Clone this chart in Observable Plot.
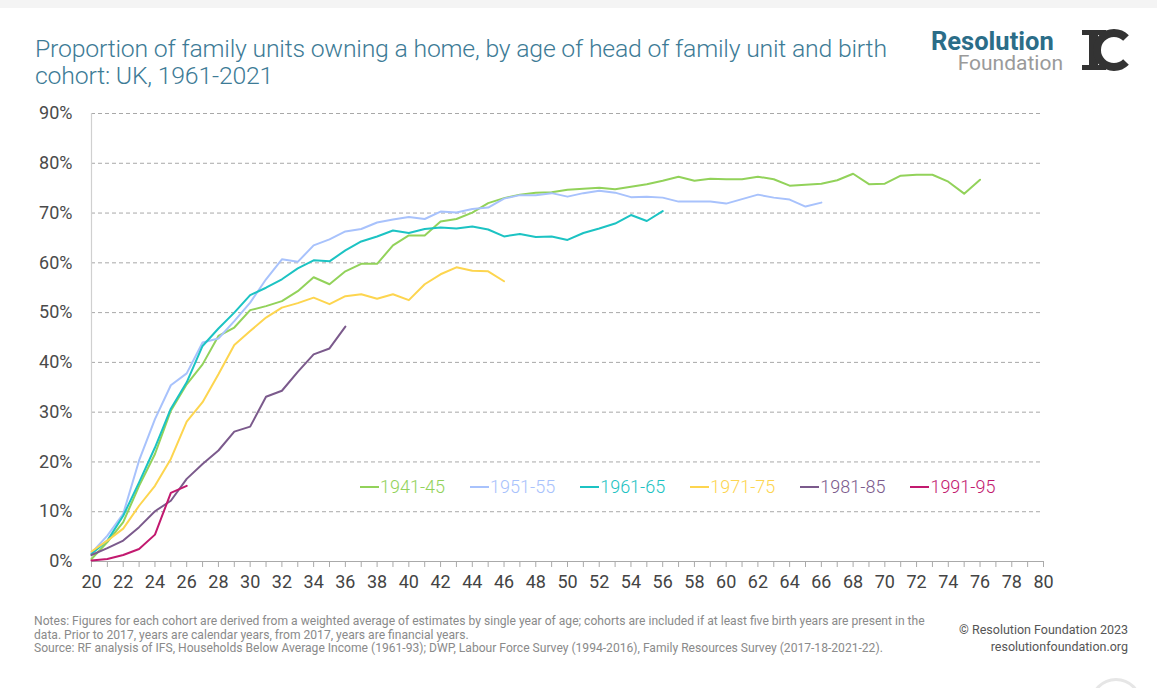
<!DOCTYPE html>
<html>
<head>
<meta charset="utf-8">
<script src="https://cdn.jsdelivr.net/npm/d3@7"></script>
<script src="https://cdn.jsdelivr.net/npm/@observablehq/plot@0.6"></script>
<style>
  html, body { margin: 0; padding: 0; background: #fff; }
  body { width: 1157px; height: 688px; position: relative; overflow: hidden; font-family: Roboto, "Noto Sans", sans-serif; }
  #band { position: absolute; left: 0; top: 0; width: 1157px; height: 8px; background: #f4f4f4; }
  #title { position: absolute; left: 35px; top: 35px; font-size: 24.8px; font-weight: 300; color: #3d7b96; line-height: 27px; white-space: nowrap; letter-spacing: -0.2px; }
  #logo1 { position: absolute; left: 931px; top: 29px; font-size: 25.5px; line-height: 24px; font-weight: 700; color: #2b6d88; white-space: nowrap; }
  #logo2 { position: absolute; right: 94px; top: 54px; font-size: 21px; line-height: 18px; font-weight: 400; color: #9a9a9a; white-space: nowrap; }
  #ic { position: absolute; left: 1080px; top: 28px; }
  #chart { position: absolute; left: 0; top: 100px; }
  #legend { position: absolute; left: 360px; top: 476px; display: flex; gap: 25px; font-size: 18px; font-weight: 300; }
  .item { display: flex; align-items: center; white-space: nowrap; }
  .sw { display: inline-block; width: 19px; height: 2px; margin-right: 1px; }
  #notes { position: absolute; left: 34px; top: 615px; font-size: 12.1px; color: #8a8a8a; line-height: 13.7px; white-space: nowrap; }
  #copy { position: absolute; right: 29px; top: 621px; font-size: 12.5px; color: #555; line-height: 17px; text-align: right; white-space: nowrap; }
  #circ { position: absolute; left: 1090px; top: 678px; width: 46px; height: 46px; border-radius: 50%; border: 3px solid #e6e6e6; }
</style>
</head>
<body>
<div id="band"></div>
<div id="title">Proportion of family units owning a home, by age of head of family unit and birth<br>cohort: UK, 1961-2021</div>
<div id="logo1">Resolution</div>
<div id="logo2">Foundation</div>
<svg id="ic" width="54" height="44" viewBox="0 0 54 44">
  <rect x="9" y="3" width="9" height="38" fill="#333"/>
  <rect x="2" y="2" width="24" height="5" fill="#333"/>
  <rect x="2" y="37" width="24" height="5" fill="#333"/>
  <path d="M 46 10 A 17 17 0 1 0 46 34" fill="none" stroke="#333" stroke-width="8"/>
</svg>
<div id="chart"></div>
<div id="legend"></div>
<div id="notes">Notes: Figures for each cohort are derived from a weighted average of estimates by single year of age; cohorts are included if at least five birth years are present in the<br>data. Prior to 2017, years are calendar years, from 2017, years are financial years.<br>Source: RF analysis of IFS, Households Below Average Income (1961-93); DWP, Labour Force Survey (1994-2016), Family Resources Survey (2017-18-2021-22).</div>
<div id="copy">© Resolution Foundation 2023<br>resolutionfoundation.org</div>
<div id="circ"></div>
<script>
// ---- data ----
const cohorts = ["1941-45", "1951-55", "1961-65", "1971-75", "1981-85", "1991-95"];
const colors = ["#92d25a", "#a8c2fc", "#1cc3c3", "#fdd54f", "#7b5a8c", "#c2196f"];
const startAge = 20;
const c1941 = [0.5, 3.9, 7.9, 15.2, 21.6, 30.3, 35.6, 39.6, 45.3, 47.0, 50.5, 51.3, 52.3, 54.3, 57.1, 55.7, 58.3, 59.8, 59.8, 63.5, 65.5, 65.5, 68.3, 68.8, 70.1, 72.0, 73.0, 73.7, 74.1, 74.2, 74.7, 74.9, 75.1, 74.8, 75.3, 75.8, 76.5, 77.3, 76.5, 76.9, 76.8, 76.8, 77.3, 76.8, 75.5, 75.7, 75.9, 76.6, 77.9, 75.8, 75.9, 77.5, 77.7, 77.7, 76.3, 73.9, 76.7];
const c1951 = [1.7, 5.2, 9.6, 20.3, 28.6, 35.4, 37.8, 44.0, 44.8, 48.3, 52.0, 56.7, 60.7, 60.2, 63.5, 64.7, 66.3, 66.8, 68.1, 68.7, 69.2, 68.8, 70.3, 70.1, 70.8, 71.1, 72.9, 73.6, 73.6, 74.0, 73.3, 74.0, 74.5, 74.1, 73.2, 73.3, 73.1, 72.3, 72.3, 72.3, 71.9, 72.8, 73.7, 73.1, 72.7, 71.3, 72.1];
const c1961 = [1.5, 4.2, 9.2, 15.9, 22.9, 30.7, 36.0, 43.3, 46.8, 50.0, 53.5, 55.0, 56.7, 58.9, 60.5, 60.3, 62.5, 64.3, 65.3, 66.5, 66.0, 66.8, 67.1, 66.9, 67.3, 66.7, 65.3, 65.8, 65.2, 65.3, 64.6, 66.0, 66.9, 67.9, 69.6, 68.4, 70.4];
const c1971 = [2.0, 4.2, 6.6, 11.2, 15.2, 20.6, 28.1, 32.0, 37.6, 43.5, 46.3, 49.0, 51.0, 51.9, 53.0, 51.7, 53.3, 53.7, 52.8, 53.7, 52.5, 55.7, 57.7, 59.1, 58.4, 58.3, 56.3];
const c1981 = [1.3, 2.7, 4.2, 6.9, 10.1, 12.2, 16.6, 19.6, 22.3, 26.1, 27.1, 33.1, 34.3, 38.1, 41.6, 42.8, 47.2];
const c1991 = [0.2, 0.5, 1.3, 2.5, 5.4, 13.8, 15.2];
const seriesValues = [c1941, c1951, c1961, c1971, c1981, c1991];
const yTicks = [0, 10, 20, 30, 40, 50, 60, 70, 80, 90];
const xTicks = d3.range(20, 81, 1);

const rows = [];
seriesValues.forEach((vals, i) => vals.forEach((v, j) => rows.push({cohort: cohorts[i], age: startAge + j, value: v})));

const chart = Plot.plot({
  width: 1157,
  height: 510,
  marginLeft: 91,
  marginRight: 114,
  marginTop: 13,
  marginBottom: 49,
  style: {fontFamily: "Roboto, sans-serif", background: "transparent"},
  x: {domain: [20, 80]},
  y: {domain: [0, 90]},
  color: {domain: cohorts, range: colors},
  marks: [
    Plot.gridY(yTicks.filter(d => d > 0), {stroke: "#a8a8a8", strokeOpacity: 1, strokeDasharray: "4,3", strokeWidth: 1}),
    Plot.ruleX([20], {y1: 0, y2: 90, stroke: "#d0d0d0", strokeWidth: 1.2}),
    Plot.axisX({ticks: xTicks, tickSize: 6, tickPadding: 8, stroke: "#aaa", fill: "#444", fontSize: 18, tickFormat: d => d % 2 === 0 ? String(d) : "", label: null}),
    Plot.ruleY([0], {stroke: "#aaa", strokeWidth: 1.2}),
    Plot.axisY({ticks: yTicks, tickSize: 0, tickPadding: 19, fill: "#4a4a4a", fontSize: 18, tickFormat: d => d + "%", label: null}),
    Plot.line(rows, {x: "age", y: "value", z: "cohort", stroke: "cohort", strokeWidth: 2, curve: "linear"})
  ]
});
document.getElementById("chart").appendChild(chart);

const legend = document.getElementById("legend");
cohorts.forEach((c, i) => {
  const it = document.createElement("div");
  it.className = "item";
  it.innerHTML = `<span class="sw" style="background:${colors[i]}"></span><span style="color:${colors[i]}">${c}</span>`;
  legend.appendChild(it);
});
</script>
</body>
</html>
